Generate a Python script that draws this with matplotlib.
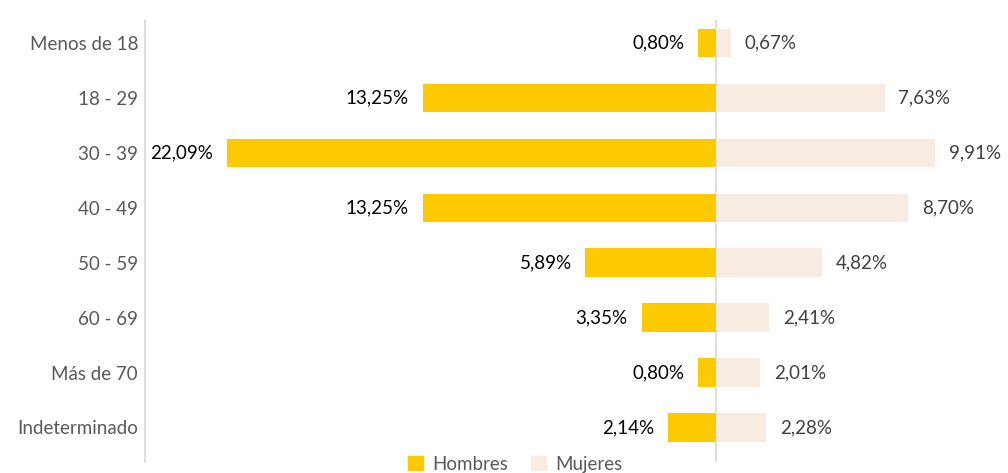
import matplotlib
matplotlib.use("Agg")
import matplotlib.pyplot as plt
from matplotlib.patches import Patch

categorias = ["Menos de 18", "18 - 29", "30 - 39", "40 - 49", "50 - 59",
              "60 - 69", "Más de 70", "Indeterminado"]
hombres = [0.80, 13.25, 22.09, 13.25, 5.89, 3.35, 0.80, 2.14]
mujeres = [0.67, 7.63, 9.91, 8.70, 4.82, 2.41, 2.01, 2.28]
etiquetas_h = ["0,80%", "13,25%", "22,09%", "13,25%", "5,89%", "3,35%", "0,80%", "2,14%"]
etiquetas_m = ["0,67%", "7,63%", "9,91%", "8,70%", "4,82%", "2,41%", "2,01%", "2,28%"]

color_h = "#FDCA00"
color_m = "#F8ECE2"
gris = "#595959"

plt.rcParams['font.family'] = ['Lato', 'DejaVu Sans']

fig = plt.figure(figsize=(10.08, 4.73), dpi=100)
ax = fig.add_axes([145 / 1008, 11 / 473, 855 / 1008, 442 / 473])

y = list(range(len(categorias)))
ax.barh(y, [-v for v in hombres], height=0.52, color=color_h, label="Hombres")
ax.barh(y, mujeres, height=0.52, color=color_m, label="Mujeres")

# etiquetas de valor fuera de cada barra
for i in y:
    ax.annotate(etiquetas_h[i], (-hombres[i], i), xytext=(-10, 0), textcoords="offset points",
                ha="right", va="center", fontsize=13.5, color="black")
    ax.annotate(etiquetas_m[i], (mujeres[i], i), xytext=(10, 0), textcoords="offset points",
                ha="left", va="center", fontsize=13.5, color="#404040")

ax.axvline(0, color="#D9D9D9", lw=1.2, zorder=0)
ax.set_xlim(-25.8, 12.85)
ax.set_ylim(7.63, -0.42)
ax.set_yticks(y)
ax.set_yticklabels(categorias, fontsize=13.5, color=gris)
ax.tick_params(axis="y", length=0, pad=5)
ax.set_xticks([])
for s in ["top", "right", "bottom"]:
    ax.spines[s].set_visible(False)
ax.spines["left"].set_color("#D9D9D9")
ax.spines["left"].set_linewidth(1.2)

handles = [Patch(color=color_h, label="Hombres"), Patch(color=color_m, label="Mujeres")]
fig.legend(handles=handles, loc="center", bbox_to_anchor=(515 / 1008, 1 - 464 / 473), ncol=2,
           frameon=False, fontsize=13.5, labelcolor=gris, handlelength=0.8, handleheight=0.8,
           columnspacing=1.2, handletextpad=0.5)

fig.savefig("out.png", dpi=100)
